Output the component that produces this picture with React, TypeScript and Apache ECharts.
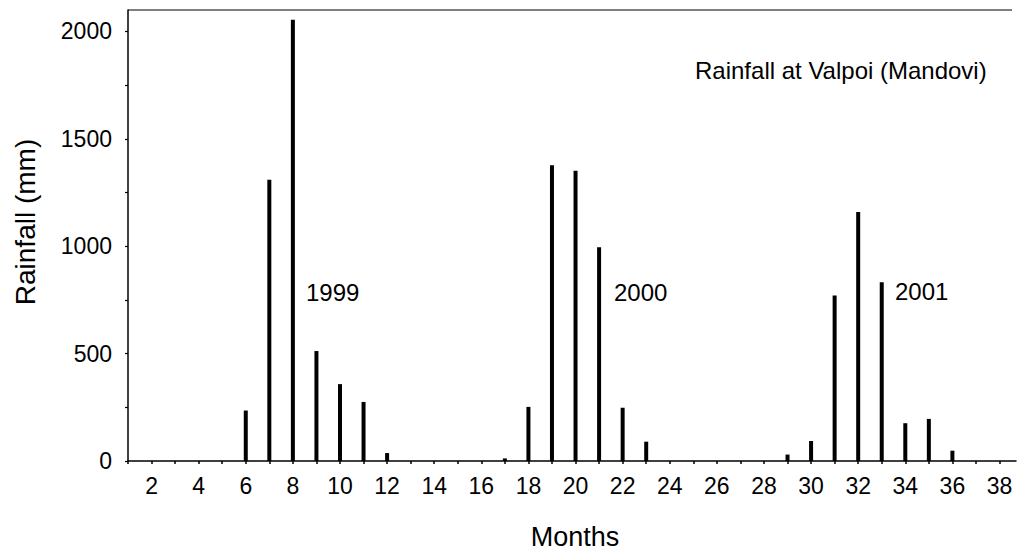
import React, { useEffect, useRef } from "react";
import * as echarts from "echarts";

const rainMonths = [6, 7, 8, 9, 10, 11, 12, 17, 18, 19, 20, 21, 22, 23, 29, 30, 31, 32, 33, 34, 35, 36];
const rainValues = [235, 1310, 2055, 512, 358, 275, 37, 12, 252, 1377, 1352, 995, 248, 90, 30, 93, 771, 1160, 832, 176, 196, 48];

const xTickValues = [1, 2, 3, 4, 5, 6, 7, 8, 9, 10, 11, 12, 13, 14, 15, 16, 17, 18, 19, 20, 21, 22, 23, 24, 25, 26, 27, 28, 29, 30, 31, 32, 33, 34, 35, 36, 37, 38];
const xLabelValues = [2, 4, 6, 8, 10, 12, 14, 16, 18, 20, 22, 24, 26, 28, 30, 32, 34, 36, 38];
const yTickValues = [0, 250, 500, 750, 1000, 1250, 1500, 1750, 2000];
const yLabelValues = [0, 500, 1000, 1500, 2000];

const yearLabels = ["1999", "2000", "2001"];
const chartTitle = "Rainfall at Valpoi (Mandovi)";
const xTitle = "Months";
const yTitle = "Rainfall (mm)";

const FONT = "Liberation Sans, Arial, Helvetica, sans-serif";

export default function App() {
  const ref = useRef<HTMLDivElement>(null);
  useEffect(() => {
    if (!ref.current) return;
    const chart = echarts.init(ref.current, null, { renderer: "svg" });
    const data = rainMonths.map((m, i) => [m, rainValues[i]]);
    chart.setOption({
      animation: false,
      backgroundColor: "#fff",
      grid: { left: 128, top: 10, width: 888, height: 451, containLabel: false },
      xAxis: {
        type: "value",
        position: "bottom",
        min: 1,
        max: 38.7,
        splitLine: { show: false },
        axisLine: { show: true, onZero: false, lineStyle: { color: "#000", width: 1.5 } },
        axisTick: { show: true, customValues: xTickValues, length: 3, lineStyle: { color: "#000", width: 1.5 } },
        axisLabel: {
          customValues: xLabelValues,
          color: "#000",
          fontSize: 23,
          fontFamily: FONT,
          margin: 13,
          formatter: (v: number) => String(v),
        },
      },
      yAxis: {
        type: "value",
        min: 0,
        max: 2100,
        splitLine: { show: false },
        axisLine: { show: true, onZero: false, lineStyle: { color: "#000", width: 1.5 } },
        axisTick: { show: true, customValues: yTickValues, length: 3, lineStyle: { color: "#000", width: 1.2 } },
        axisLabel: {
          customValues: yLabelValues,
          color: "#000",
          fontSize: 23,
          fontFamily: FONT,
          margin: 16,
          formatter: (v: number) => String(v),
        },
      },
      series: [
        {
          type: "bar",
          data,
          barWidth: 4,
          itemStyle: { color: "#000" },
        },
      ],
      graphic: [
        {
          type: "line",
          shape: { x1: 128, y1: 10, x2: 1012, y2: 10 },
          style: { stroke: "#000", lineWidth: 1.2 },
        },
        {
          type: "text",
          x: 695,
          y: 70,
          style: { text: chartTitle, fontSize: 24, fontFamily: FONT, fill: "#000", align: "left", verticalAlign: "middle" },
        },
        {
          type: "text",
          x: 306,
          y: 292,
          style: { text: yearLabels[0], fontSize: 24, fontFamily: FONT, fill: "#000", align: "left", verticalAlign: "middle" },
        },
        {
          type: "text",
          x: 614,
          y: 292,
          style: { text: yearLabels[1], fontSize: 24, fontFamily: FONT, fill: "#000", align: "left", verticalAlign: "middle" },
        },
        {
          type: "text",
          x: 895,
          y: 291,
          style: { text: yearLabels[2], fontSize: 24, fontFamily: FONT, fill: "#000", align: "left", verticalAlign: "middle" },
        },
        {
          type: "text",
          x: 575,
          y: 537,
          style: { text: xTitle, fontSize: 27, fontFamily: FONT, fill: "#000", align: "center", verticalAlign: "middle" },
        },
        {
          type: "text",
          x: 25,
          y: 222,
          rotation: Math.PI / 2,
          style: { text: yTitle, fontSize: 28, fontFamily: FONT, fill: "#000", align: "center", verticalAlign: "middle" },
        },
      ],
    });
    return () => chart.dispose();
  }, []);
  return (
    <div
      ref={ref}
      style={{ position: "fixed", left: 0, top: 0, width: 1020, height: 553, background: "#fff" }}
    />
  );
}
